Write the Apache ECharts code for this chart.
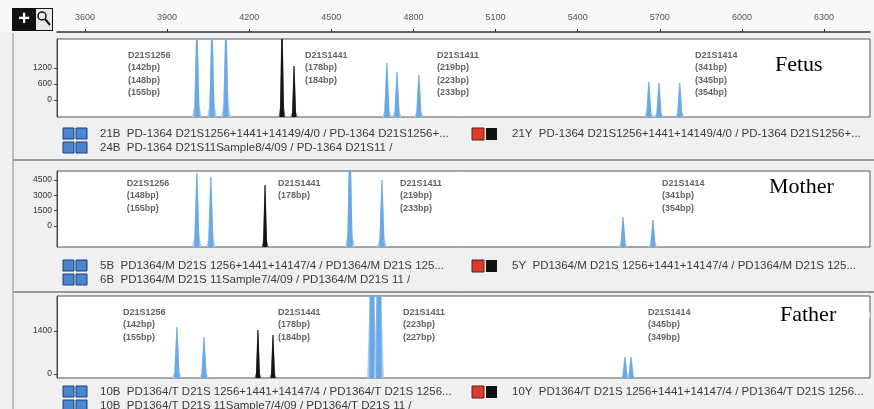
<!DOCTYPE html>
<html>
<head>
<meta charset="utf-8">
<script src="https://cdn.jsdelivr.net/npm/echarts@6/dist/echarts.min.js"></script>
<style>
  html, body { margin: 0; padding: 0; background: #eef0f1; }
  #main { width: 874px; height: 409px; }
</style>
</head>
<body>
<div id="main"></div>
<script>
// size scale (ruler) shared by all three traces
const sizeMin = 3498
const sizeMax = 6468
const rulerTicks = [3600, 3900, 4200, 4500, 4800, 5100, 5400, 5700, 6000, 6300]

// peaks: [size, height]; heights past a panel's top are off-scale peaks
const fetusBlue = [[4009, 3000], [4064, 3000], [4115, 3000], [4703, 1387], [4740, 1050], [4820, 937], [5660, 675], [5697, 637], [5773, 637]]
const fetusBlack = [[4320, 3000], [4364, 1275]]
const motherBlue = [[4009, 5183], [4060, 4792], [4568, 9000], [4685, 4499], [5566, 880], [5675, 587]]
const motherBlack = [[4258, 4010]]
const fatherBlue = [[3936, 1530], [4035, 1205], [4649, 20000], [4674, 20000], [5573, 553], [5595, 553]]
const fatherBlack = [[4232, 1433], [4287, 1270]]

// y tick labels of each trace
const fetusTicks = [0, 600, 1200]
const motherTicks = [0, 1500, 3000, 4500]
const fatherTicks = [0, 1400]

// marker names, where they sit on the size scale, allele sizes
const markers = ['D21S1256', 'D21S1441', 'D21S1411', 'D21S1414']
const fetusMarkerAt = [3757, 4404, 4886, 5829]
const fetusAlleles = [['(142bp)', '(148bp)', '(155bp)'], ['(178bp)', '(184bp)'], ['(219bp)', '(223bp)', '(233bp)'], ['(341bp)', '(345bp)', '(354bp)']]
const motherMarkerAt = [3753, 4305, 4751, 5708]
const motherAlleles = [['(148bp)', '(155bp)'], ['(178bp)'], ['(219bp)', '(233bp)'], ['(341bp)', '(354bp)']]
const fatherMarkerAt = [3739, 4305, 4762, 5657]
const fatherAlleles = [['(142bp)', '(155bp)'], ['(178bp)', '(184bp)'], ['(223bp)', '(227bp)'], ['(345bp)', '(349bp)']]

// sample rows under each trace
const fetusRows = ['21B  PD-1364 D21S1256+1441+14149/4/0 / PD-1364 D21S1256+...', '24B  PD-1364 D21S11Sample8/4/09 / PD-1364 D21S11 /', '21Y  PD-1364 D21S1256+1441+14149/4/0 / PD-1364 D21S1256+...']
const motherRows = ['5B  PD1364/M D21S 1256+1441+14147/4 / PD1364/M D21S 125...', '6B  PD1364/M D21S 11Sample7/4/09 / PD1364/M D21S 11 /', '5Y  PD1364/M D21S 1256+1441+14147/4 / PD1364/M D21S 125...']
const fatherRows = ['10B  PD1364/T D21S 1256+1441+14147/4 / PD1364/T D21S 1256...', '10B  PD1364/T D21S 11Sample7/4/09 / PD1364/T D21S 11 /', '10Y  PD1364/T D21S 1256+1441+14147/4 / PD1364/T D21S 1256...']

const panels = [
  { name: 'Fetus', top: 39, height: 78, min: -637, max: 2287, ticks: fetusTicks, blue: fetusBlue, black: fetusBlack, at: fetusMarkerAt, alleles: fetusAlleles, rows: fetusRows, textOff: 10, rowY: 134, tagX: 775, tagY: 65, blobX: 835, blobY: 63 },
  { name: 'Mother', top: 171, height: 76, min: -2054, max: 5379, ticks: motherTicks, blue: motherBlue, black: motherBlack, at: motherMarkerAt, alleles: motherAlleles, rows: motherRows, textOff: 6, rowY: 266, tagX: 769, tagY: 187, blobX: 836, blobY: 187 },
  { name: 'Father', top: 296, height: 82, min: -130, max: 2540, ticks: fatherTicks, blue: fatherBlue, black: fatherBlack, at: fatherMarkerAt, alleles: fatherAlleles, rows: fatherRows, textOff: 10, rowY: 392, tagX: 780, tagY: 315, blobX: 838, blobY: 315 }
]

const plain = (v) => String(v)

function peakShape (bottom, fill, core, half, coreFrac) {
  return function (params, api) {
    const tip = api.coord([api.value(0), api.value(1)])
    const foot = api.coord([api.value(0), bottom])
    const kneeY = foot[1] + (tip[1] - foot[1]) * 0.12
    return {
      type: 'group',
      children: [
        {
          type: 'polygon',
          shape: { points: [[foot[0] - half, foot[1]], [foot[0] - half * 0.5, kneeY], [tip[0] - 0.7, tip[1]], [tip[0] + 0.7, tip[1]], [foot[0] + half * 0.5, kneeY], [foot[0] + half, foot[1]]] },
          style: { fill: fill }
        },
        {
          type: 'polygon',
          shape: { points: [[foot[0] - half * coreFrac, foot[1]], [tip[0] - 0.3, tip[1]], [tip[0] + 0.3, tip[1]], [foot[0] + half * coreFrac, foot[1]]] },
          style: { fill: core }
        }
      ]
    }
  }
}

const grid = [{ left: 57, right: 4, top: 0, height: 32 }]
const xAxis = [{
  gridIndex: 0, type: 'value', min: sizeMin, max: sizeMax, position: 'bottom',
  axisLine: { lineStyle: { color: '#333', width: 1.5 } },
  axisTick: { inside: true, length: 3, customValues: rulerTicks, lineStyle: { color: '#333' } },
  axisLabel: { inside: true, customValues: rulerTicks, formatter: plain, fontSize: 9, color: '#555', margin: 10, fontFamily: 'Liberation Sans' },
  splitLine: { show: false }
}]
const yAxis = [{ gridIndex: 0, type: 'value', show: false }]
const series = []

panels.forEach((p, i) => {
  const g = i + 1
  grid.push({ left: 57, right: 4, top: p.top, height: p.height, show: true, backgroundColor: '#ffffff', borderColor: '#555', borderWidth: 1 })
  xAxis.push({ gridIndex: g, type: 'value', min: sizeMin, max: sizeMax, show: false })
  yAxis.push({
    gridIndex: g, type: 'value', min: p.min, max: p.max,
    axisLine: { show: true, lineStyle: { color: '#444' } },
    axisTick: { show: true, length: 3, customValues: p.ticks, lineStyle: { color: '#444' } },
    axisLabel: { customValues: p.ticks, formatter: plain, fontSize: 8.5, color: '#333', margin: 5, fontFamily: 'Liberation Sans' },
    splitLine: { show: false }
  })
  series.push({
    type: 'custom', xAxisIndex: g, yAxisIndex: g, clip: true, silent: true,
    renderItem: peakShape(p.min, '#a9d0f3', '#6aa9e6', 5, 0.55),
    data: p.blue
  })
  series.push({
    type: 'custom', xAxisIndex: g, yAxisIndex: g, clip: true, silent: true,
    renderItem: peakShape(p.min, '#707070', '#151515', 3.5, 0.6),
    data: p.black
  })
  series.push({
    type: 'scatter', xAxisIndex: g, yAxisIndex: g, symbolSize: 0, silent: true,
    data: markers.map((m, k) => ({ value: [p.at[k], p.max], name: [m].concat(p.alleles[k]).join('\n') })),
    label: {
      show: true, position: [0, p.textOff], align: 'left', verticalAlign: 'top',
      formatter: (d) => d.name, fontSize: 9, lineHeight: 12.5, fontWeight: 'bold',
      color: '#3a3a3a', fontFamily: 'Liberation Sans'
    }
  })
})

// decoration: frame, toolbar box, sample rows, trace tags
const graphic = [
  { type: 'rect', shape: { x: 0, y: 0, width: 874, height: 32 }, style: { fill: '#f8f8f8' }, z: -1 },
  { type: 'line', shape: { x1: 13, y1: 33, x2: 13, y2: 409 }, style: { stroke: '#8c8c8c', lineWidth: 1 } },
  { type: 'rect', shape: { x: 12, y: 8, width: 41, height: 23 }, style: { fill: '#111' } },
  { type: 'text', style: { x: 24, y: 19, text: '+', fill: '#fff', font: 'bold 20px Liberation Sans', align: 'center', verticalAlign: 'middle' } },
  { type: 'rect', shape: { x: 36, y: 9, width: 16, height: 21 }, style: { fill: '#e8e8e8' } },
  { type: 'circle', shape: { cx: 42, cy: 16, r: 4 }, style: { fill: 'none', stroke: '#111', lineWidth: 1.5 } },
  { type: 'line', shape: { x1: 45, y1: 19, x2: 50, y2: 25 }, style: { stroke: '#111', lineWidth: 2 } },
  { type: 'line', shape: { x1: 13, y1: 160, x2: 874, y2: 160 }, style: { stroke: '#9a9a9a', lineWidth: 2 } },
  { type: 'line', shape: { x1: 13, y1: 292, x2: 874, y2: 292 }, style: { stroke: '#9a9a9a', lineWidth: 2 } }
]

function blueIcon (x, y) {
  return [
    { type: 'rect', shape: { x: x, y: y, width: 11, height: 11 }, style: { fill: '#4a86cf', stroke: '#1f3f73', lineWidth: 1 } },
    { type: 'rect', shape: { x: x + 13, y: y, width: 11, height: 11 }, style: { fill: '#4a86cf', stroke: '#1f3f73', lineWidth: 1 } }
  ]
}

panels.forEach((p) => {
  const r1 = p.rowY
  const r2 = p.rowY + 14
  blueIcon(63, r1 - 6).forEach((e) => graphic.push(e))
  blueIcon(63, r2 - 6).forEach((e) => graphic.push(e))
  graphic.push({ type: 'rect', shape: { x: 472, y: r1 - 6, width: 12, height: 12 }, style: { fill: '#d93a2b', stroke: '#6b1a12', lineWidth: 1 } })
  graphic.push({ type: 'rect', shape: { x: 486, y: r1 - 6, width: 11, height: 12 }, style: { fill: '#111' } })
  const tf = '11.5px Liberation Sans'
  graphic.push({ type: 'text', style: { x: 100, y: r1, text: p.rows[0], fill: '#3a3a3a', font: tf, verticalAlign: 'middle' } })
  graphic.push({ type: 'text', style: { x: 100, y: r2, text: p.rows[1], fill: '#3a3a3a', font: tf, verticalAlign: 'middle' } })
  graphic.push({ type: 'text', style: { x: 512, y: r1, text: p.rows[2], fill: '#3a3a3a', font: tf, verticalAlign: 'middle' } })
  graphic.push({ type: 'ellipse', shape: { cx: p.blobX, cy: p.blobY, rx: 32, ry: 15 }, style: { fill: '#ffffff' }, z: 50 })
  graphic.push({ type: 'text', style: { x: p.tagX, y: p.tagY, text: p.name, fill: '#000', font: '22px Liberation Serif', verticalAlign: 'middle' }, z: 51 })
})

const chartInstance = echarts.init(document.getElementById('main'), null, { renderer: 'canvas' })
chartInstance.setOption({
  backgroundColor: '#eef0f1',
  animation: false,
  grid: grid,
  xAxis: xAxis,
  yAxis: yAxis,
  series: series,
  graphic: graphic
})
</script>
</body>
</html>
